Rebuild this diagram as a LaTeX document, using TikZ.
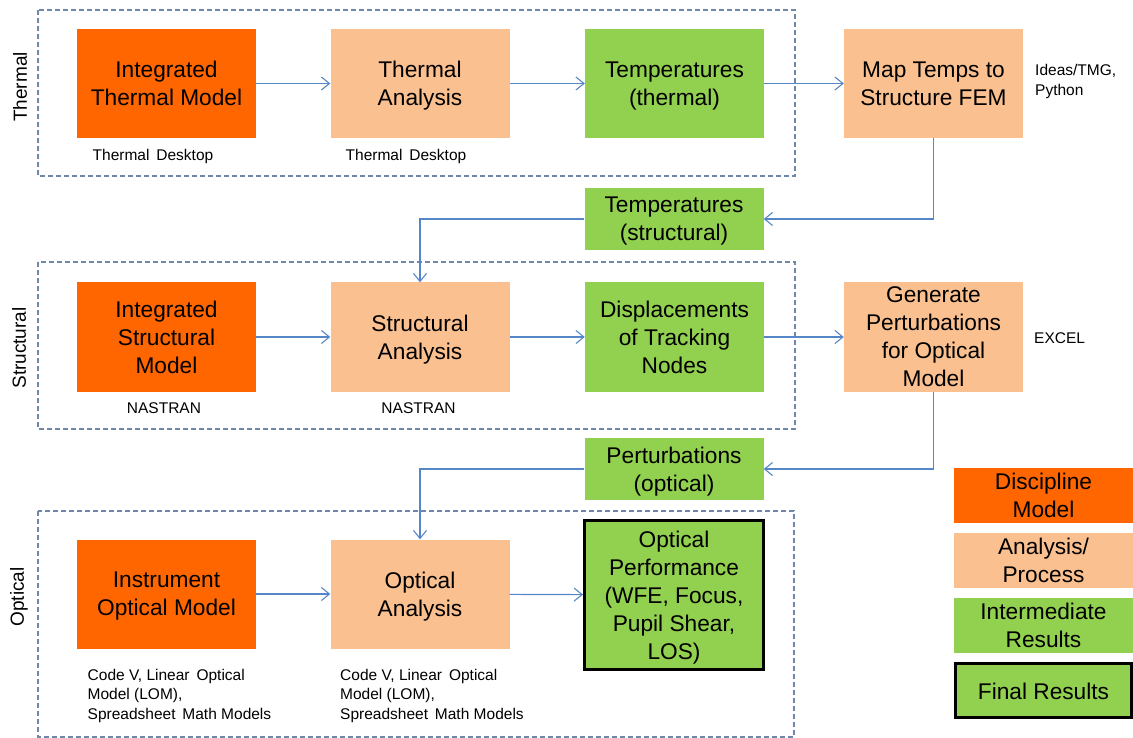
\documentclass[tikz,border=0pt]{standalone}
\usepackage{fontspec}
\setmainfont{Liberation Sans}
\usetikzlibrary{arrows.meta}
\definecolor{dorange}{RGB}{255,102,0}
\definecolor{lorange}{RGB}{250,192,144}
\definecolor{lgreen}{RGB}{146,208,80}
\definecolor{conn}{RGB}{85,135,200}
\definecolor{dashc}{RGB}{110,135,170}
\tikzset{
  box/.style={minimum width=179pt, minimum height=109pt, inner sep=0pt, align=center, text=black,
              font=\fontsize{22.7}{28}\selectfont, text depth=-2pt,
              execute at begin node={\rule{0pt}{23pt}}},
  discbox/.style={box, fill=dorange},
  procbox/.style={box, fill=lorange},
  resbox/.style={box, fill=lgreen},
  legbox/.style={minimum width=179pt, minimum height=55pt, inner sep=0pt, align=center,
              font=\fontsize{22.7}{28}\selectfont, text depth=-2pt,
              execute at begin node={\rule{0pt}{23pt}}},
  small/.style={font=\fontsize{15.5}{19.5}\selectfont, inner sep=0pt},
  side/.style={font=\fontsize{19}{22}\selectfont, rotate=90, inner sep=0pt},
  group/.style={draw=dashc, line width=1.1pt, dash pattern=on 5pt off 3pt},
  conn/.style={draw=conn, line width=1.2pt, -{Straight Barb[length=8pt,width=13pt,line width=1.1pt]}},
}
\begin{document}
\begin{tikzpicture}[x=1pt,y=1pt]
\useasboundingbox (0,0) rectangle (1133,-738);
% group frames
\draw[group] (38,-10) rectangle (795,-176);
\draw[group] (38,-262) rectangle (795,-429);
\draw[group] (38,-511) rectangle (794,-737);
\node[side] (lthermal) at (20,-87) {Thermal};
\node[side] (lstruct) at (19,-348) {Structural};
\node[side] (loptical) at (19,-597) {Optical};
% thermal row
\node[discbox] (itm) at (166.5,-83.5) {Integrated\\Thermal Model};
\node[procbox] (ta) at (420,-83.5) {Thermal\\Analysis};
\node[resbox] (tth) at (674.5,-83.5) {Temperatures\\(thermal)};
\node[procbox] (map) at (933.5,-83.5) {Map Temps to\\Structure FEM};
\node[small] (td1) at (153,-156.5) {Thermal\,\ Desktop};
\node[small] (td2) at (406,-156.5) {Thermal\,\ Desktop};
\node[small, anchor=west, align=left] (ideas) at (1035,-81.5) {Ideas/TMG,\\Python};
% transfer
\node[resbox, minimum height=62pt] (tst) at (674,-219) {Temperatures\\(structural)};
% structural row
\node[discbox] (ism) at (166.5,-337) {Integrated\\Structural\\Model};
\node[procbox] (sa) at (420,-337) {Structural\\Analysis};
\node[resbox] (disp) at (674.5,-337) {Displacements\\of Tracking\\Nodes};
\node[procbox] (gen) at (933.5,-337) {Generate\\Perturbations\\for Optical\\Model};
\node[small] (nas1) at (164,-408.5) {NASTRAN};
\node[small] (nas2) at (418.5,-408.5) {NASTRAN};
\node[small, anchor=west] (excel) at (1034,-338) {EXCEL};
% transfer
\node[resbox, minimum height=62pt] (pert) at (674,-469) {Perturbations\\(optical)};
% optical row
\node[discbox] (iom) at (166.5,-594) {Instrument\\Optical Model};
\node[procbox] (oa) at (420,-594) {Optical\\Analysis};
\node[resbox, draw=black, line width=3pt, minimum width=179pt, minimum height=149pt] (op) at (674,-595) {Optical\\Performance\\(WFE, Focus,\\Pupil Shear,\\LOS)};
\node[small, anchor=north west, align=left] (cv1) at (87.5,-669) {Code V, Linear\,\ Optical\\Model (LOM),\\Spreadsheet\,\ Math Models};
\node[small, anchor=north west, align=left] (cv2) at (340,-669) {Code V, Linear\,\ Optical\\Model (LOM),\\Spreadsheet\,\ Math Models};
% legend
\node[legbox, fill=dorange] (lg1) at (1043.5,-495.5) {Discipline\\Model};
\node[legbox, fill=lorange] (lg2) at (1043.5,-560.5) {Analysis/\\Process};
\node[legbox, fill=lgreen] (lg3) at (1043.5,-625.5) {Intermediate\\Results};
\node[legbox, fill=lgreen, draw=black, line width=3pt, minimum width=176pt, minimum height=54pt, text depth=5pt] (lg4) at (1043.5,-690.5) {Final Results};
% connectors
\draw[conn] (itm) -- (ta);
\draw[conn] (ta) -- (tth);
\draw[conn] (tth) -- (map);
\draw[conn] (map.south) |- (tst.east);
\draw[conn] (tst.west) -| (sa.north);
\draw[conn] (ism) -- (sa);
\draw[conn] (sa) -- (disp);
\draw[conn] (disp) -- (gen);
\draw[conn] (gen.south) |- (pert.east);
\draw[conn] (pert.west) -| (oa.north);
\draw[conn] (iom) -- (oa);
\draw[conn] (oa) -- (op);
\end{tikzpicture}
\end{document}
